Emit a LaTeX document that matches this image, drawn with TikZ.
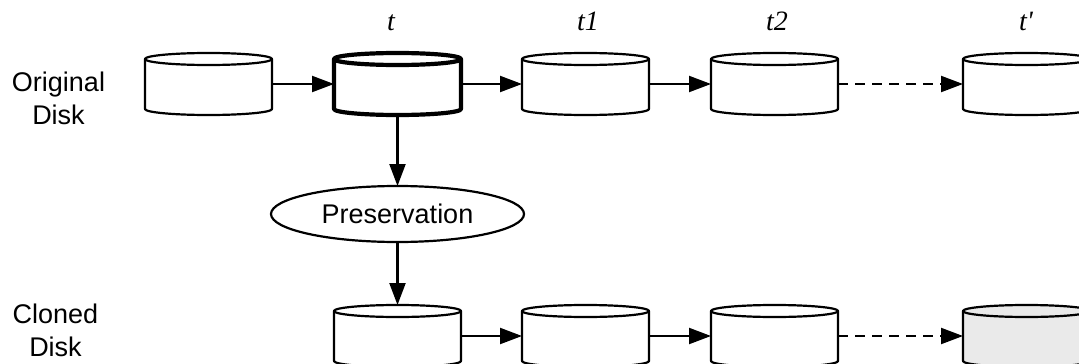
\documentclass[tikz,border=0pt]{standalone}
\usepackage{fontspec}
\setmainfont{Liberation Serif}
\newfontfamily\lblsans{Liberation Sans}
\usetikzlibrary{arrows.meta,shapes.geometric}
\tikzset{
  diskbox/.style={rectangle, minimum width=127pt, minimum height=62pt, inner sep=0pt, outer sep=0pt},
  diskline/.style={draw, line width=2.2pt, line join=round, fill=white},
  conn/.style={line width=2.2pt, -{Triangle[length=22pt,width=16pt]}},
  dconn/.style={conn, dash pattern=on 10pt off 7pt},
  sidelabel/.style={font=\lblsans\fontsize{27}{33}\selectfont, align=center, inner sep=0pt},
  timelabel/.style={font=\itshape\fontsize{28}{33}\selectfont, anchor=base, inner sep=0pt},
  procnode/.style={ellipse, draw, line width=2.2pt, minimum width=253pt, minimum height=56pt, inner sep=0pt, outer sep=0pt, font=\lblsans\fontsize{27}{33}\selectfont}
}
\newcommand\diskshape[2][]{%
  \path[diskline,#1] ([yshift=-6pt]#2.north west) arc[start angle=180,end angle=0,x radius=63.5pt,y radius=6pt]
     -- ([yshift=6pt]#2.south east) arc[start angle=0,end angle=-180,x radius=63.5pt,y radius=6pt] -- cycle;
  \path[diskline,#1,fill=none] ([yshift=-6pt]#2.north west) arc[start angle=180,end angle=360,x radius=63.5pt,y radius=6pt];
}
\begin{document}
\begin{tikzpicture}[x=1pt,y=-1pt]
\useasboundingbox (0,0) rectangle (1079,364);
% top row
\node[diskbox] (o1) at (208.5,84) {};
\node[diskbox] (o2) at (397.5,84) {};
\node[diskbox] (o3) at (585.5,84) {};
\node[diskbox] (o4) at (774.5,84) {};
\node[diskbox] (o5) at (1026.5,84) {};
% bottom row
\node[diskbox] (c2) at (397.5,336) {};
\node[diskbox] (c3) at (585.5,336) {};
\node[diskbox] (c4) at (774.5,336) {};
\node[diskbox] (c5) at (1026.5,336) {};
\diskshape{o1}
\diskshape[line width=4.2pt]{o2}
\diskshape{o3}
\diskshape{o4}
\diskshape{o5}
\diskshape{c2}
\diskshape{c3}
\diskshape{c4}
\diskshape[fill={rgb,255:red,234;green,234;blue,234}]{c5}
% process
\node[procnode] (pres) at (397.5,214) {Preservation};
% labels
\node[sidelabel] (orig) at (58.5,98) {Original\\Disk};
\node[sidelabel] (clon) at (55.5,330) {Cloned\\Disk};
\node[timelabel] (lt) at (391,30) {t};
\node[timelabel] (lt1) at (588,30) {t1};
\node[timelabel] (lt2) at (777,30) {t2};
\node[timelabel] (ltp) at (1026,30) {t\textquotesingle};
% connectors
\draw[conn] (o1.east) -- (o2.west);
\draw[conn] (o2.east) -- (o3.west);
\draw[conn] (o3.east) -- (o4.west);
\draw[dconn] (o4.east) -- (o5.west);
\draw[conn] (o2.south) -- (pres.north);
\draw[conn] (pres.south) -- (c2.north);
\draw[conn] (c2.east) -- (c3.west);
\draw[conn] (c3.east) -- (c4.west);
\draw[dconn] (c4.east) -- (c5.west);
\end{tikzpicture}
\end{document}
